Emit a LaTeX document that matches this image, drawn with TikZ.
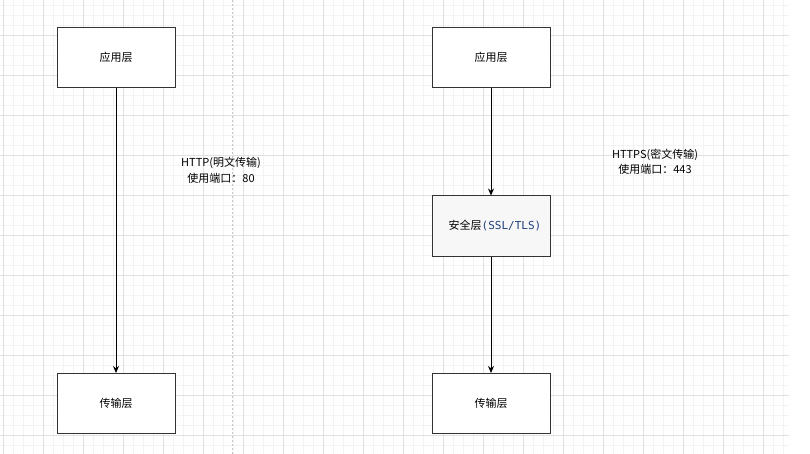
\documentclass[tikz,border=0pt]{standalone}
\usepackage{fontspec}
\usepackage{xcolor}
\usetikzlibrary{positioning,arrows.meta}
\newfontfamily\cjk{Noto Sans CJK SC}
\newfontfamily\monofont{DejaVu Sans Mono}
\definecolor{gridminor}{HTML}{F3F3F3}
\definecolor{gridmajor}{HTML}{E0E0E0}
\definecolor{boxline}{HTML}{333333}
\definecolor{tlsblue}{HTML}{1F3F7A}
\tikzset{
  layer/.style={draw=boxline,line width=1pt,fill=white,minimum width=118pt,
    minimum height=60pt,inner sep=0pt,font=\cjk\fontsize{11}{14}\selectfont},
  note/.style={align=center,inner sep=0pt,font=\cjk\fontsize{11}{15.5}\selectfont},
  flow/.style={-{Stealth[length=7pt,width=6pt]},line width=1pt,black}
}

\begin{document}
\begin{tikzpicture}[x=1pt,y=-1pt]
\useasboundingbox (0,0) rectangle (810,454);
% grid
\foreach \x in {3,13,...,783}{\draw[gridminor,line width=0.6pt] (\x,0) -- (\x,454);}
\foreach \y in {5,15,...,445}{\draw[gridminor,line width=0.6pt] (0,\y) -- (789,\y);}
\foreach \x in {3,43,...,763}{\draw[gridmajor,line width=0.6pt] (\x,0) -- (\x,454);}
\foreach \y in {35,75,...,435}{\draw[gridmajor,line width=0.6pt] (0,\y) -- (789,\y);}
\draw[gray!45,line width=1pt,dash pattern=on 2pt off 2pt] (232,0) -- (232,454);
% HTTP
\node[layer] (app1) at (116,57.5) {应用层};
\node[layer,below=285pt of app1] (trans1) {传输层};
\draw[flow] (app1) -- (trans1);
\node[note] (http) at (221,170.5) {HTTP(明文传输)\\使用端口：80};
% HTTPS
\node[layer] (app2) at (491,57.5) {应用层};
\node[layer,below=107.5pt of app2,fill=black!3,text width=104pt,align=center] (sec2)
  {\hspace*{8pt}安全层{\monofont\color{tlsblue}(SSL/TLS)}};
\node[layer,below=116.5pt of sec2] (trans2) {传输层};
\draw[flow] (app2) -- (sec2);
\draw[flow] (sec2) -- (trans2);
\node[note] (https) at (655,162) {HTTPS(密文传输)\\使用端口：443};
\end{tikzpicture}
\end{document}
